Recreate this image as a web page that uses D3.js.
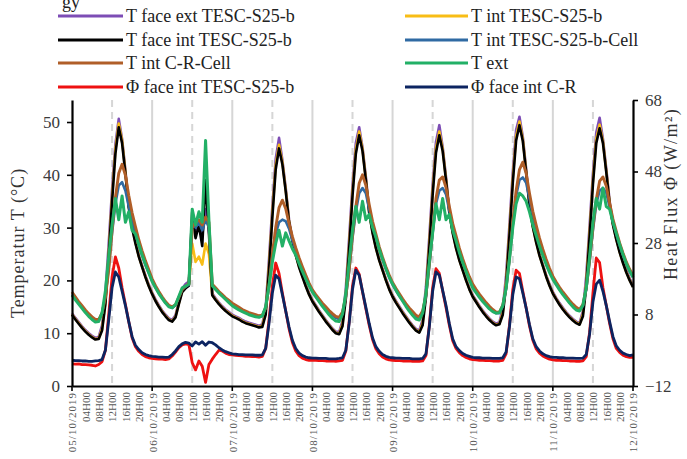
<!DOCTYPE html>
<html>
<head>
<meta charset="utf-8">
<script src="https://cdn.jsdelivr.net/npm/d3@7"></script>
<style>
  body { margin: 0; background: #fff; }
  svg text { font-family: "Liberation Serif", "Times New Roman", serif; }
</style>
</head>
<body>
<svg id="chart" width="687" height="459"></svg>
<script>
// Hourly readings, 05/10/2019 00:00 to 12/10/2019 00:00 (169 samples)

// Temperatures (°C), left axis
const tFaceExtTescS25b = [
  13.8, 12.9, 12.1, 11.3, 10.6, 10.0, 9.5, 9.1, 9.3, 11.5, 17.5, 27.0, 37.2, 45.8, 50.6, 46.8, 40.8, 34.3, 30.3, 27.4, 24.8, 22.8, 20.9, 19.2,
  17.7, 16.4, 15.3, 14.3, 13.5, 12.8, 12.5, 13.4, 16.0, 18.4, 19.3, 19.8, 31.5, 29.5, 31.0, 28.5, 33.5, 30.0, 17.5, 16.6, 15.8, 15.1, 14.5, 14.0,
  13.5, 13.2, 12.9, 12.5, 12.2, 12.0, 11.8, 11.6, 11.4, 11.7, 14.8, 24.0, 34.0, 43.0, 47.0, 42.8, 37.5, 31.5, 27.9, 25.1, 22.8, 21.0, 19.2, 17.6,
  16.3, 15.3, 14.3, 13.4, 12.5, 11.7, 10.9, 10.3, 10.2, 12.3, 18.5, 28.0, 38.0, 46.0, 49.0, 45.2, 39.6, 33.3, 29.4, 26.5, 24.1, 22.2, 20.3, 18.6,
  17.2, 16.1, 15.1, 14.1, 13.2, 12.3, 11.5, 10.8, 10.5, 12.5, 18.8, 28.2, 38.2, 46.2, 49.4, 45.3, 39.6, 33.3, 29.4, 26.5, 24.1, 22.2, 20.3, 18.6,
  17.2, 16.2, 15.2, 14.3, 13.5, 12.8, 12.2, 11.8, 12.1, 14.6, 21.0, 30.5, 40.5, 48.5, 51.0, 47.2, 41.1, 34.6, 30.5, 27.6, 25.0, 23.0, 21.0, 19.3,
  17.8, 16.7, 15.7, 14.8, 14.0, 13.3, 12.7, 12.2, 11.9, 14.2, 20.8, 30.3, 40.2, 48.0, 50.8, 46.8, 41.1, 35.0, 30.9, 28.1, 25.7, 23.7, 21.9, 20.4,
  19.0
];
const tIntTescS25b = [
  13.6, 12.7, 11.9, 11.1, 10.4, 9.8, 9.3, 8.9, 9.0, 10.8, 16.0, 25.2, 35.8, 44.8, 49.7, 46.5, 40.5, 34.0, 30.1, 27.2, 24.6, 22.6, 20.7, 19.0,
  17.5, 16.2, 15.1, 14.1, 13.3, 12.6, 12.3, 13.1, 15.7, 18.0, 18.7, 19.2, 27.0, 23.5, 24.5, 23.0, 27.0, 25.0, 17.3, 16.4, 15.6, 14.9, 14.3, 13.8,
  13.3, 13.0, 12.7, 12.3, 12.0, 11.8, 11.6, 11.4, 11.2, 11.4, 14.0, 22.8, 32.8, 41.8, 45.7, 42.4, 37.1, 31.2, 27.7, 24.9, 22.6, 20.8, 19.0, 17.4,
  16.1, 15.1, 14.1, 13.2, 12.3, 11.5, 10.7, 10.1, 9.9, 11.7, 17.3, 26.8, 36.8, 44.8, 48.2, 44.9, 39.2, 33.0, 29.2, 26.2, 23.9, 22.0, 20.1, 18.4,
  17.0, 15.9, 14.9, 13.9, 13.0, 12.1, 11.3, 10.6, 10.2, 11.9, 17.6, 27.0, 37.0, 45.0, 48.2, 44.9, 39.2, 33.0, 29.2, 26.2, 23.9, 22.0, 20.1, 18.4,
  17.0, 16.0, 15.0, 14.1, 13.3, 12.6, 12.0, 11.6, 11.8, 13.9, 19.8, 29.3, 39.3, 47.3, 50.1, 46.8, 40.7, 34.3, 30.3, 27.3, 24.8, 22.8, 20.8, 19.1,
  17.6, 16.5, 15.5, 14.6, 13.8, 13.1, 12.5, 12.0, 11.7, 13.6, 19.6, 29.1, 39.0, 46.8, 49.5, 46.4, 40.7, 34.7, 30.7, 27.8, 25.4, 23.4, 21.6, 20.1,
  18.8
];
const tFaceIntTescS25b = [
  13.5, 12.6, 11.8, 11.0, 10.3, 9.7, 9.2, 8.8, 8.9, 10.5, 15.5, 24.5, 35.0, 44.0, 49.0, 46.0, 40.2, 33.8, 29.9, 27.0, 24.5, 22.5, 20.6, 18.9,
  17.4, 16.1, 15.0, 14.0, 13.2, 12.5, 12.2, 13.0, 15.5, 17.8, 18.5, 19.0, 33.0, 28.0, 30.5, 26.5, 39.0, 29.0, 17.2, 16.3, 15.5, 14.8, 14.2, 13.7,
  13.2, 12.9, 12.6, 12.2, 11.9, 11.7, 11.5, 11.3, 11.1, 11.2, 13.5, 22.0, 32.0, 41.0, 45.0, 42.0, 36.9, 31.0, 27.5, 24.8, 22.5, 20.7, 18.9, 17.3,
  16.0, 15.0, 14.0, 13.1, 12.2, 11.4, 10.6, 10.0, 9.8, 11.3, 16.5, 26.0, 36.0, 44.0, 47.5, 44.5, 39.0, 32.8, 29.0, 26.1, 23.8, 21.9, 20.0, 18.3,
  16.9, 15.8, 14.8, 13.8, 12.9, 12.0, 11.2, 10.5, 10.1, 11.5, 16.8, 26.2, 36.2, 44.2, 47.5, 44.5, 39.0, 32.8, 29.0, 26.1, 23.8, 21.9, 20.0, 18.3,
  16.9, 15.9, 14.9, 14.0, 13.2, 12.5, 11.9, 11.5, 11.7, 13.5, 19.0, 28.5, 38.5, 46.5, 49.4, 46.4, 40.5, 34.1, 30.1, 27.2, 24.7, 22.7, 20.7, 19.0,
  17.5, 16.4, 15.4, 14.5, 13.7, 13.0, 12.4, 11.9, 11.6, 13.2, 18.8, 28.3, 38.2, 46.0, 48.8, 46.0, 40.5, 34.5, 30.5, 27.7, 25.3, 23.3, 21.5, 20.0,
  18.7
];
const tIntTescS25bCell = [
  17.4, 16.5, 15.7, 14.9, 14.1, 13.4, 12.8, 12.3, 12.4, 13.8, 17.0, 22.5, 29.0, 34.5, 38.0, 38.6, 37.0, 34.0, 31.2, 28.9, 26.7, 24.7, 22.9, 21.4,
  19.9, 18.7, 17.6, 16.6, 15.8, 15.1, 14.8, 15.3, 16.8, 18.3, 18.8, 19.2, 31.0, 30.0, 31.0, 29.5, 31.5, 30.0, 19.1, 18.4, 17.7, 17.1, 16.5, 16.0,
  15.5, 15.1, 14.7, 14.3, 14.0, 13.7, 13.5, 13.3, 13.1, 13.3, 14.8, 18.8, 24.5, 28.8, 31.0, 31.5, 31.2, 29.8, 27.6, 25.7, 23.9, 22.2, 20.7, 19.2,
  17.9, 17.0, 16.2, 15.4, 14.7, 14.0, 13.4, 12.9, 12.7, 13.8, 16.8, 21.8, 28.0, 33.0, 36.5, 37.5, 36.5, 33.5, 30.6, 28.3, 26.0, 24.0, 22.2, 20.6,
  19.2, 18.1, 17.1, 16.2, 15.3, 14.5, 13.8, 13.1, 12.8, 13.9, 17.0, 22.7, 29.0, 34.5, 37.0, 37.5, 36.3, 33.2, 30.3, 28.0, 25.7, 23.7, 21.9, 20.3,
  18.9, 17.9, 17.1, 16.3, 15.5, 14.8, 14.2, 13.8, 13.8, 15.1, 18.4, 24.0, 30.5, 36.0, 39.0, 39.5, 38.5, 35.5, 32.4, 29.9, 27.5, 25.5, 23.6, 21.9,
  20.4, 19.3, 18.4, 17.5, 16.7, 15.9, 15.2, 14.7, 14.3, 15.2, 18.3, 23.5, 29.5, 34.5, 37.0, 37.5, 36.6, 33.9, 31.1, 28.8, 26.7, 24.8, 23.1, 21.7,
  20.7
];
const tIntCRCell = [
  17.8, 16.9, 16.0, 15.2, 14.4, 13.7, 13.1, 12.6, 12.6, 13.8, 16.8, 22.0, 29.5, 35.7, 40.3, 42.0, 39.9, 36.1, 32.8, 30.2, 27.7, 25.6, 23.7, 22.0,
  20.3, 19.0, 17.9, 16.9, 16.0, 15.3, 15.0, 15.4, 16.8, 18.3, 18.9, 19.4, 30.0, 31.0, 31.5, 30.5, 32.0, 31.0, 19.3, 18.6, 17.9, 17.3, 16.7, 16.2,
  15.7, 15.3, 14.9, 14.5, 14.2, 13.9, 13.7, 13.5, 13.3, 13.4, 14.8, 19.0, 25.0, 30.0, 33.8, 35.2, 33.6, 30.8, 28.3, 26.2, 24.3, 22.6, 21.0, 19.5,
  18.2, 17.3, 16.5, 15.7, 15.0, 14.3, 13.7, 13.2, 13.0, 14.0, 17.0, 22.0, 28.5, 34.0, 38.4, 40.0, 38.0, 34.4, 31.2, 28.8, 26.4, 24.4, 22.6, 21.0,
  19.6, 18.5, 17.5, 16.5, 15.6, 14.8, 14.1, 13.4, 13.1, 14.2, 17.2, 23.0, 29.5, 35.5, 39.0, 39.6, 37.6, 34.0, 30.8, 28.5, 26.1, 24.1, 22.3, 20.7,
  19.3, 18.3, 17.4, 16.6, 15.8, 15.1, 14.5, 14.0, 14.0, 15.3, 18.6, 24.2, 31.0, 37.0, 41.0, 42.4, 40.3, 36.5, 33.1, 30.5, 28.0, 25.9, 24.0, 22.3,
  20.8, 19.7, 18.7, 17.8, 17.0, 16.2, 15.5, 14.9, 14.5, 15.4, 18.5, 23.8, 30.0, 35.3, 38.8, 39.6, 37.9, 34.6, 31.6, 29.3, 27.1, 25.2, 23.5, 22.1,
  21.0
];
const tExt = [
  17.2, 16.3, 15.5, 14.7, 13.9, 13.2, 12.6, 12.1, 12.2, 13.9, 18.0, 24.5, 30.5, 35.5, 31.5, 36.0, 31.0, 33.0, 29.5, 28.8, 26.8, 24.8, 23.0, 21.4,
  19.8, 18.6, 17.5, 16.6, 15.7, 15.0, 14.8, 15.4, 17.0, 18.6, 18.9, 19.3, 33.5, 30.5, 33.0, 31.0, 46.5, 31.5, 19.0, 18.3, 17.6, 17.0, 16.4, 15.8,
  15.2, 14.8, 14.4, 14.1, 13.8, 13.5, 13.3, 13.1, 13.0, 13.3, 15.0, 19.0, 23.5, 27.0, 29.5, 26.5, 29.0, 27.5, 26.0, 24.8, 23.2, 21.7, 20.3, 19.0,
  17.8, 16.9, 16.0, 15.1, 14.3, 13.5, 12.8, 12.3, 12.2, 13.6, 17.5, 23.5, 29.5, 34.0, 31.0, 35.0, 31.5, 32.5, 30.0, 28.2, 25.9, 24.0, 22.2, 20.6,
  19.3, 18.2, 17.1, 16.1, 15.1, 14.2, 13.4, 12.7, 12.5, 13.8, 17.5, 23.5, 29.0, 34.5, 31.5, 35.5, 31.5, 32.5, 29.5, 27.5, 25.3, 23.4, 21.7, 20.1,
  18.6, 17.7, 16.8, 16.0, 15.3, 14.6, 14.1, 13.8, 13.9, 15.2, 18.5, 24.0, 30.0, 34.5, 36.5, 36.0, 35.0, 33.0, 30.5, 28.5, 26.5, 24.7, 23.0, 21.5,
  20.2, 19.2, 18.2, 17.3, 16.5, 15.7, 15.0, 14.4, 14.2, 15.3, 18.6, 24.5, 31.0, 35.5, 33.5, 37.5, 34.0, 33.5, 31.0, 28.9, 26.8, 24.9, 23.2, 21.8,
  20.6
];

// Heat flux (W/m²), right axis
const phiFaceIntTescS25b = [
  -5.8, -5.9, -5.8, -6.0, -6.0, -6.1, -6.2, -6.4, -6.0, -5.2, -2.0, 8.0, 18.5, 24.1, 21.0, 15.5, 10.8, 6.0, 1.5, -1.0, -2.3, -3.2, -3.8, -4.1,
  -4.3, -4.4, -4.5, -4.5, -4.6, -4.4, -3.6, -2.5, -1.3, -0.5, -0.2, -0.4, -5.5, -7.5, -5.0, -6.5, -11.0, -6.0, -4.5, -3.2, -2.0, -2.2, -2.8, -3.2,
  -3.3, -3.4, -3.5, -3.6, -3.7, -3.7, -3.8, -3.8, -3.9, -3.7, -1.5, 6.5, 16.0, 22.4, 19.5, 14.0, 9.0, 4.0, 0.2, -2.2, -3.5, -4.2, -4.6, -4.8,
  -4.8, -4.8, -4.9, -4.9, -5.0, -5.0, -5.0, -5.1, -5.0, -4.8, -2.2, 6.0, 16.0, 21.0, 19.3, 14.3, 9.6, 5.0, 1.0, -1.6, -3.0, -3.9, -4.4, -4.7,
  -4.8, -4.9, -4.9, -5.0, -5.0, -5.0, -5.1, -5.1, -5.1, -5.0, -3.5, 5.0, 15.5, 20.8, 19.5, 14.6, 10.0, 5.0, 0.7, -1.5, -2.7, -3.5, -4.0, -4.4,
  -4.6, -4.7, -4.8, -4.8, -4.9, -4.9, -5.0, -5.0, -5.0, -4.8, -3.0, 5.0, 15.0, 20.4, 19.5, 14.5, 9.8, 4.8, 0.8, -1.6, -2.8, -3.6, -4.1, -4.5,
  -4.7, -4.8, -4.8, -4.9, -4.9, -5.0, -5.0, -5.1, -5.1, -5.0, -3.8, 3.0, 14.0, 23.8, 22.5, 15.5, 10.5, 5.5, 1.2, -1.5, -2.6, -3.4, -3.8, -4.0,
  -4.0
];
const phiFaceIntCR = [
  -4.8, -4.9, -4.9, -5.0, -5.0, -5.1, -5.1, -5.0, -4.9, -4.6, -2.0, 6.5, 15.5, 19.9, 18.5, 14.5, 10.5, 6.0, 1.8, -0.6, -1.8, -2.7, -3.2, -3.5,
  -3.7, -3.8, -3.9, -3.9, -4.0, -3.9, -3.2, -2.2, -1.0, -0.2, 0.2, 0.0, -0.8, 0.3, -0.3, 0.4, -0.6, 0.3, 0.1, -0.5, -1.3, -1.9, -2.4, -2.7,
  -3.0, -3.1, -3.2, -3.2, -3.3, -3.3, -3.3, -3.4, -3.4, -3.3, -1.5, 5.5, 14.0, 19.0, 18.0, 13.5, 9.0, 4.5, 0.8, -1.5, -2.8, -3.5, -3.9, -4.1,
  -4.2, -4.2, -4.3, -4.3, -4.3, -4.4, -4.4, -4.4, -4.3, -4.1, -2.0, 5.5, 15.0, 20.4, 19.0, 14.5, 10.0, 5.5, 1.5, -1.0, -2.3, -3.2, -3.7, -4.0,
  -4.1, -4.2, -4.2, -4.3, -4.3, -4.3, -4.4, -4.4, -4.4, -4.3, -3.0, 4.5, 14.5, 19.9, 19.0, 14.8, 10.5, 5.5, 1.2, -1.0, -2.1, -2.9, -3.4, -3.7,
  -4.0, -4.1, -4.1, -4.2, -4.2, -4.2, -4.3, -4.3, -4.3, -4.1, -2.5, 4.5, 13.5, 18.5, 18.0, 14.0, 9.8, 5.2, 1.2, -1.0, -2.2, -3.0, -3.5, -3.8,
  -4.0, -4.0, -4.1, -4.1, -4.2, -4.2, -4.2, -4.3, -4.3, -4.2, -3.2, 2.5, 11.5, 16.5, 17.6, 14.5, 10.5, 6.0, 1.8, -0.8, -2.0, -2.8, -3.2, -3.5,
  -3.3
];

const seriesNames = [
  "T face ext TESC-S25-b", "T int TESC-S25-b",
  "T face int TESC-S25-b", "T int TESC-S25-b-Cell",
  "T int C-R-Cell", "T ext",
  "Φ face int TESC-S25-b", "Φ face int C-R"
];

const xTickLabels = [
  "05/10/2019", "04H00", "08H00", "12H00", "16H00", "20H00",
  "06/10/2019", "04H00", "08H00", "12H00", "16H00", "20H00",
  "07/10/2019", "04H00", "08H00", "12H00", "16H00", "20H00",
  "08/10/2019", "04H00", "08H00", "12H00", "16H00", "20H00",
  "09/10/2019", "04H00", "08H00", "12H00", "16H00", "20H00",
  "10/10/2019", "04H00", "08H00", "12H00", "16H00", "20H00",
  "11/10/2019", "04H00", "08H00", "12H00", "16H00", "20H00",
  "12/10/2019"
];
const tempTicks = [0, 10, 20, 30, 40, 50];
const fluxTicks = [-12, 8, 28, 48, 68];

// ---- layout ----
const W = 687, H = 459;
const plot = { left: 72, right: 633, top: 100, bottom: 386 };
const hours = d3.range(tFaceIntTescS25b.length);

const x = d3.scaleLinear().domain([0, 168]).range([plot.left, plot.right]);
const yT = d3.scaleLinear().domain([0, 54.17]).range([plot.bottom, plot.top]);
const yF = d3.scaleLinear().domain([-12, 68]).range([plot.bottom, plot.top]);

const svg = d3.select("#chart");
svg.append("rect").attr("width", W).attr("height", H).attr("fill", "#fff");

// fragment of the caption line above the figure
svg.append("text").attr("x", 62).attr("y", 8).attr("font-size", 18).attr("fill", "#222").text("gy");

// vertical gridlines: solid at midnight, dashed at noon
const grid = svg.append("g");
grid.selectAll("line.day").data(d3.range(24, 168, 24)).join("line")
  .attr("x1", d => x(d)).attr("x2", d => x(d))
  .attr("y1", plot.top).attr("y2", plot.bottom)
  .attr("stroke", "#d6d6d6").attr("stroke-width", 2);
grid.selectAll("line.noon").data(d3.range(12, 168, 24)).join("line")
  .attr("x1", d => x(d)).attr("x2", d => x(d))
  .attr("y1", plot.top).attr("y2", plot.bottom)
  .attr("stroke", "#d6d6d6").attr("stroke-width", 2)
  .attr("stroke-dasharray", "7,5");

// series
const series = [
  { name: seriesNames[0], values: tFaceExtTescS25b, color: "#7d4db5", y: yT, w: 2.6 },
  { name: seriesNames[1], values: tIntTescS25b, color: "#f8bd16", y: yT, w: 2.6 },
  { name: seriesNames[2], values: tFaceIntTescS25b, color: "#000000", y: yT, w: 2.6 },
  { name: seriesNames[3], values: tIntTescS25bCell, color: "#2f6aa3", y: yT, w: 2.6 },
  { name: seriesNames[4], values: tIntCRCell, color: "#b05e28", y: yT, w: 2.9 },
  { name: seriesNames[5], values: tExt, color: "#22b066", y: yT, w: 3.0 },
  { name: seriesNames[6], values: phiFaceIntTescS25b, color: "#ee1111", y: yF, w: 2.8 },
  { name: seriesNames[7], values: phiFaceIntCR, color: "#0c2461", y: yF, w: 2.8 }
];

const lines = svg.append("g");
series.forEach(s => {
  const line = d3.line().x(i => x(i)).y(i => s.y(s.values[i]));
  lines.append("path")
    .attr("d", line(hours))
    .attr("fill", "none")
    .attr("stroke", s.color)
    .attr("stroke-width", s.w)
    .attr("stroke-linejoin", "round");
});

// axes
const axisFont = 17;
const leftAxis = svg.append("g").attr("transform", `translate(${plot.left},0)`)
  .call(d3.axisLeft(yT).tickValues(tempTicks).tickSize(5).tickSizeOuter(0).tickPadding(7));
const rightAxis = svg.append("g").attr("transform", `translate(${plot.right},0)`)
  .call(d3.axisRight(yF).tickValues(fluxTicks).tickSize(5).tickSizeOuter(0).tickPadding(7));
[leftAxis, rightAxis].forEach(g => {
  g.select(".domain").attr("stroke", "#000").attr("stroke-width", 2.2);
  g.selectAll(".tick line").attr("stroke", "#000").attr("stroke-width", 1.6);
  g.selectAll(".tick text").attr("font-size", axisFont).attr("fill", "#3a3a3a")
    .style("font-family", '"Liberation Serif", serif');
});

const bottomAxis = svg.append("g").attr("transform", `translate(0,${plot.bottom})`)
  .call(d3.axisBottom(x).tickValues(d3.range(0, 169, 4)).tickFormat((d, i) => xTickLabels[i])
    .tickSize(0).tickSizeOuter(0));
bottomAxis.select(".domain").attr("stroke", "#000").attr("stroke-width", 2.2);
bottomAxis.selectAll(".tick text")
  .attr("transform", "rotate(-90)")
  .attr("text-anchor", "end")
  .attr("x", -6).attr("y", 0).attr("dy", "0.35em")
  .attr("font-size", 11).attr("fill", "#555")
  .attr("letter-spacing", (d, i) => (i % 6 === 0 ? 1 : 0))
  .style("font-family", '"Liberation Serif", serif');
bottomAxis.selectAll("line.daytick").data(d3.range(0, 169, 24)).join("line")
  .attr("class", "daytick")
  .attr("x1", d => x(d)).attr("x2", d => x(d))
  .attr("y1", 0).attr("y2", 5)
  .attr("stroke", "#000").attr("stroke-width", 1.6);

// axis titles
svg.append("text")
  .attr("transform", `translate(24,${(plot.top + plot.bottom) / 2 + 0}) rotate(-90)`)
  .attr("text-anchor", "middle").attr("font-size", 18).attr("letter-spacing", 1)
  .attr("fill", "#333")
  .text("Temperatur T (°C)");
svg.append("text")
  .attr("transform", `translate(677,${(plot.top + plot.bottom) / 2 - 49}) rotate(-90)`)
  .attr("text-anchor", "middle").attr("font-size", 18).attr("letter-spacing", 1.4)
  .attr("fill", "#333")
  .text("Heat Flux Φ (W/m²)");

// legend: two columns, four rows
const legendCols = [{ lx: 58, len: 65, tx: 126 }, { lx: 405, len: 63, tx: 471 }];
const legendRows = [16, 40, 63, 87];
const legend = svg.append("g");
series.forEach((s, i) => {
  const c = legendCols[i % 2], ry = legendRows[Math.floor(i / 2)];
  legend.append("line")
    .attr("x1", c.lx).attr("x2", c.lx + c.len).attr("y1", ry).attr("y2", ry)
    .attr("stroke", s.color).attr("stroke-width", 3);
  legend.append("text")
    .attr("x", c.tx).attr("y", ry).attr("dy", "0.33em")
    .attr("font-size", 18).attr("fill", "#222")
    .text(s.name);
});
</script>
</body>
</html>
